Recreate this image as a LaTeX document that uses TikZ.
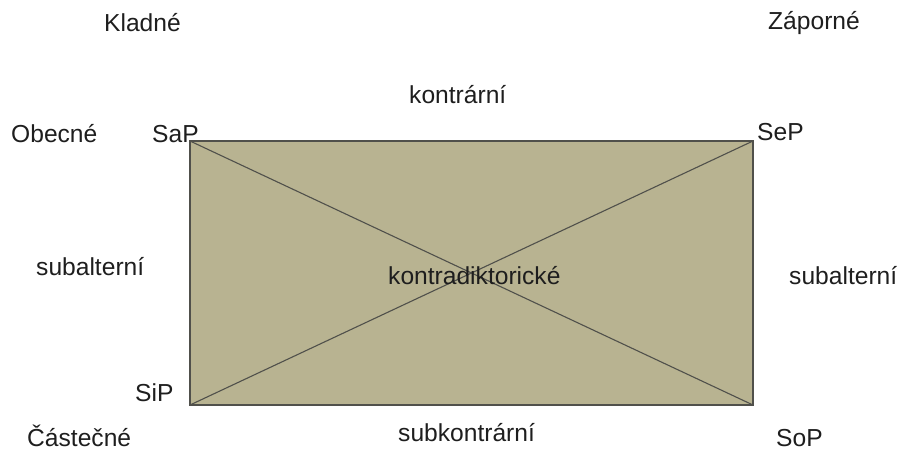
\documentclass[tikz,border=0pt]{standalone}
\usepackage{fontspec}
\setmainfont{Liberation Sans}
\definecolor{boxfill}{RGB}{184,179,145}
\definecolor{boxline}{RGB}{80,80,75}
\definecolor{txt}{RGB}{30,30,30}
\begin{document}
\begin{tikzpicture}[x=1pt,y=-1pt,
  lbl/.style={anchor=base west,inner sep=0pt,font=\fontsize{24.6}{28}\selectfont,text=txt}]
\useasboundingbox (0,0) rectangle (900,452);
\coordinate (a) at (190,141);
\coordinate (e) at (753,141);
\coordinate (i) at (190,405);
\coordinate (o) at (753,405);
\draw[fill=boxfill,draw=boxline,line width=1.2pt] (a) rectangle (o);
\draw[boxline,line width=1.1pt] (a) -- (o);
\draw[boxline,line width=1.1pt] (e) -- (i);
\node[lbl] (kladne) at (104,32) {Kladné};
\node[lbl] (zaporne) at (768,30) {Záporné};
\node[lbl] (kontrarni) at (409,103) {kontrární};
\node[lbl] (obecne) at (11,142) {Obecné};
\node[lbl] (sap) at (152,142) {SaP};
\node[lbl] (sep) at (757,140) {SeP};
\node[lbl] (subl) at (36,275) {subalterní};
\node[lbl] (kontrad) at (388,284) {kontradiktorické};
\node[lbl] (subr) at (789,284) {subalterní};
\node[lbl] (sip) at (135,401) {SiP};
\node[lbl] (castecne) at (27,446) {Částečné};
\node[lbl] (subk) at (398,441) {subkontrární};
\node[lbl] (sop) at (776,446) {SoP};
\end{tikzpicture}
\end{document}
